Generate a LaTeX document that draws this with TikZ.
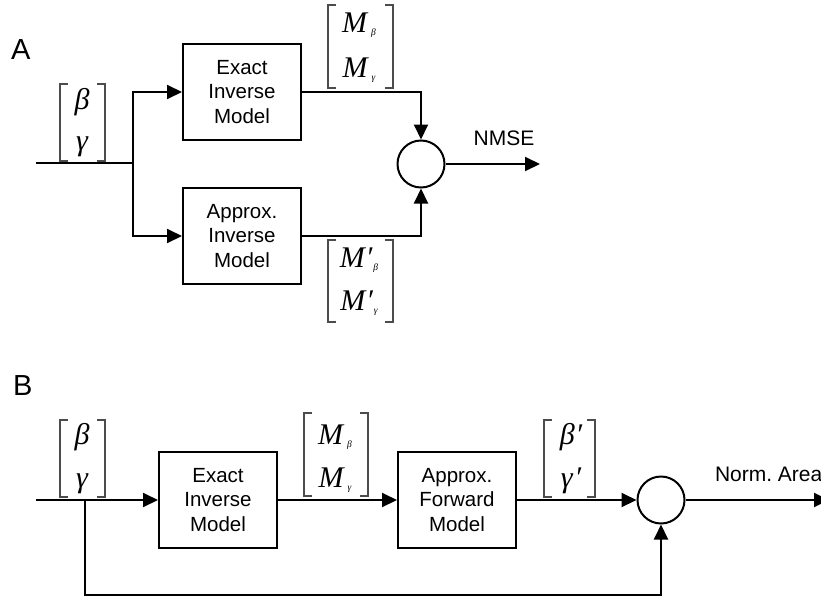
\documentclass[tikz,border=0pt]{standalone}
\usepackage{fontspec}
\setmainfont{Liberation Sans}
\newfontfamily\tms{Liberation Serif}
\usetikzlibrary{arrows.meta}
\newcommand\msub[1]{\kern4pt\raisebox{-3.5pt}{\fontsize{9.5}{10}\selectfont #1}}
\newcommand\mpr{\kern1pt′\kern-3pt}
\newcommand\mbrk[4]{%
  \draw[brk] (#1+8,#3) -- (#1,#3) -- (#1,#4) -- (#1+8,#4);
  \draw[brk] (#2-8,#3) -- (#2,#3) -- (#2,#4) -- (#2-8,#4);}
\begin{document}
\begin{tikzpicture}[x=1pt,y=-1pt,line width=2pt,
  box/.style={draw,line width=2pt,minimum width=118pt,minimum height=96pt,inner sep=0pt,align=center,font=\fontsize{20.5}{24.5}\selectfont},
  sum/.style={draw,circle,line width=2pt,minimum size=47pt,inner sep=0pt},
  arr/.style={-{Triangle[length=15pt,width=14pt]}},
  mx/.style={anchor=base,inner sep=0pt,font=\tms\itshape\fontsize{30}{36}\selectfont},
  brk/.style={draw=black!70,line width=1.2pt,line cap=butt},
  lbl/.style={font=\fontsize{21}{25}\selectfont,inner sep=0pt},
  big/.style={font=\fontsize{29}{30}\selectfont,inner sep=0pt,anchor=base west}]
\clip (0,0) rectangle (821,597);
\useasboundingbox (0,0) rectangle (821,597);
% ---------------- A
\node[big] (labA) at (10,59) {A};
\node[box] (eA) at (242,92) {Exact\\Inverse\\Model};
\node[box] (aA) at (242,236) {Approx.\\Inverse\\Model};
\node[sum] (sA) at (421,164) {};
\coordinate (inA) at (36,163);
\coordinate (brA) at (133,163);
\coordinate (outA) at (540,164);
\draw (inA) -- (brA);
\draw[arr] (brA) |- (eA.west);
\draw[arr] (brA) |- (aA.west);
\draw[arr] (eA.east) -| (sA.north);
\draw[arr] (aA.east) -| (sA.south);
\draw[arr] (sA.east) -- (outA);
\node[lbl] (nmse) at (504,138) {NMSE};
% matrices A
\node[mx] (a1) at (82,109) {β};
\node[mx] (a2) at (82,150) {γ};
\mbrk{60}{105}{84}{161}
\node[mx] (m1) at (359,32) {M\msub{β}};
\node[mx] (m2) at (359,77) {M\msub{γ}};
\mbrk{328}{393}{5}{88}
\node[mx] (p1) at (359,267) {M\mpr\msub{β}};
\node[mx] (p2) at (359,310) {M\mpr\msub{γ}};
\mbrk{328}{393}{240}{322}
% ---------------- B
\node[big] (labB) at (12,395) {B};
\node[box] (eB) at (218,500) {Exact\\Inverse\\Model};
\node[box] (fB) at (457,500) {Approx.\\Forward\\Model};
\node[sum] (sB) at (661,500) {};
\coordinate (inB) at (36,500);
\coordinate (brB) at (85,500);
\coordinate (loB) at (85,595);
\coordinate (outB) at (829,500);
\draw[arr] (inB) -- (eB.west);
\draw[arr] (eB.east) -- (fB.west);
\draw[arr] (fB.east) -- (sB.west);
\draw[arr] (sB.east) -- (outB);
\draw[arr] (brB) -- (loB) -| (sB.south);
\node[lbl,anchor=west] (area) at (714,474) {Norm.\ Area};
% matrices B
\node[mx] (b1) at (82,444) {β};
\node[mx] (b2) at (82,487) {γ};
\mbrk{60}{105}{420}{497}
\node[mx] (n1) at (335,444) {M\msub{β}};
\node[mx] (n2) at (335,487) {M\msub{γ}};
\mbrk{304}{368}{413}{496}
\node[mx] (q1) at (571,444) {β\kern1pt′};
\node[mx] (q2) at (571,487) {γ\kern2pt′};
\mbrk{544}{595}{420}{497}
\end{tikzpicture}
\end{document}
